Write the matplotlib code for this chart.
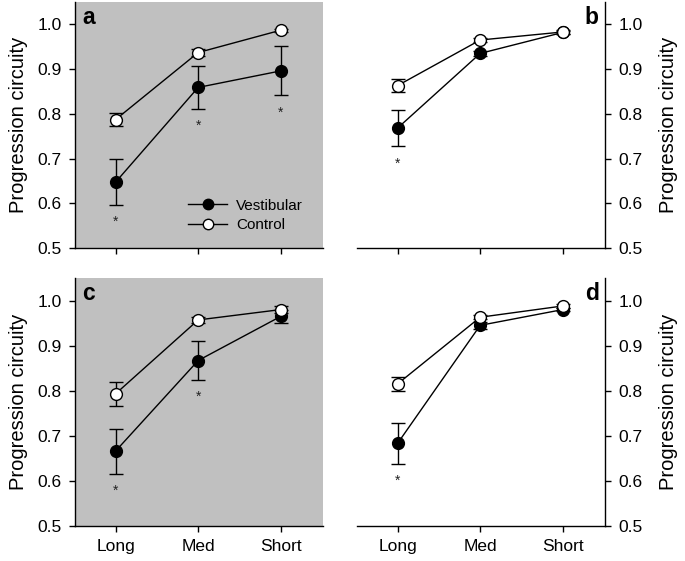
import matplotlib
matplotlib.use("Agg")
import matplotlib.pyplot as plt
from matplotlib.lines import Line2D
import numpy as np

plt.rcParams['font.family'] = ['Liberation Sans', 'DejaVu Sans']

categories = ["Long", "Med", "Short"]
panel_letters = ["a", "b", "c", "d"]

# Panel data: (mean, error) for Vestibular and Control
vest_a = [0.647, 0.859, 0.896]
vest_a_err = [0.051, 0.048, 0.055]
ctrl_a = [0.787, 0.937, 0.987]
ctrl_a_err = [0.014, 0.008, 0.003]
star_a = [0, 1, 2]

vest_b = [0.768, 0.935, 0.982]
vest_b_err = [0.041, 0.006, 0.004]
ctrl_b = [0.863, 0.965, 0.983]
ctrl_b_err = [0.015, 0.004, 0.005]
star_b = [0]

vest_c = [0.666, 0.867, 0.965]
vest_c_err = [0.050, 0.043, 0.015]
ctrl_c = [0.793, 0.957, 0.980]
ctrl_c_err = [0.027, 0.006, 0.007]
star_c = [0, 1]

vest_d = [0.683, 0.945, 0.980]
vest_d_err = [0.045, 0.008, 0.004]
ctrl_d = [0.815, 0.963, 0.988]
ctrl_d_err = [0.015, 0.005, 0.004]
star_d = [0]

panels = [
    (vest_a, vest_a_err, ctrl_a, ctrl_a_err, star_a),
    (vest_b, vest_b_err, ctrl_b, ctrl_b_err, star_b),
    (vest_c, vest_c_err, ctrl_c, ctrl_c_err, star_c),
    (vest_d, vest_d_err, ctrl_d, ctrl_d_err, star_d),
]

fig = plt.figure(figsize=(6.85, 5.61), dpi=100)
W, H = 685, 561
boxes = [
    (75, 2, 248, 246),
    (357, 2, 248, 246),
    (75, 278, 248, 248),
    (357, 278, 248, 248),
]

tick_fs = 12.5
x = np.arange(len(categories))
ms = 8.5

for i, (box, (v, ve, c, ce, stars)) in enumerate(zip(boxes, panels)):
    l, t, w, h = box
    ax = fig.add_axes([l / W, 1 - (t + h) / H, w / W, h / H])
    left = i % 2 == 0
    bottom = i >= 2
    if left:
        ax.set_facecolor('#c0c0c0')
        ax.spines['right'].set_visible(False)
        ax.spines['top'].set_visible(False)
    else:
        ax.spines['left'].set_visible(False)
        ax.spines['top'].set_visible(False)
        ax.yaxis.tick_right()
        ax.yaxis.set_label_position('right')
    ax.errorbar(x, v, yerr=ve, fmt='-o', color='black', mfc='black', mec='black',
                ms=ms, lw=1, capsize=4.7, elinewidth=1, capthick=1, zorder=3,
                label='Vestibular')
    ax.errorbar(x, c, yerr=ce, fmt='-o', color='black', mfc='white', mec='black',
                ms=ms, lw=1, capsize=4.7, elinewidth=1, capthick=1, zorder=4,
                mew=1, label='Control')
    for s in stars:
        ax.text(x[s], v[s] - ve[s] - 0.022, '*', ha='center', va='top',
                fontsize=10, color='#222222')
    ax.set_xlim(-0.49, 2.51)
    ax.set_ylim(0.5, 1.05)
    ax.set_yticks([0.5, 0.6, 0.7, 0.8, 0.9, 1.0])
    ax.set_yticklabels(['0.5', '0.6', '0.7', '0.8', '0.9', '1.0'])
    ax.set_xticks(x)
    if bottom:
        ax.set_xticklabels(categories)
    else:
        ax.set_xticklabels([])
    ax.tick_params(direction='out', length=4.5, width=1, labelsize=tick_fs, pad=5)
    ax.set_ylabel('Progression circuity', fontsize=14.5, labelpad=7 if left else 12)
    if left:
        ax.text(0.03, 0.985, panel_letters[i], transform=ax.transAxes,
                fontsize=16.5, fontweight='bold', ha='left', va='top')
    else:
        ax.text(0.975, 0.985, panel_letters[i], transform=ax.transAxes,
                fontsize=16.5, fontweight='bold', ha='right', va='top')
    for sp in ax.spines.values():
        sp.set_linewidth(1)
    if i == 0:
        handles = [
            Line2D([], [], color='black', marker='o', mfc='black', mec='black', ms=7.5, lw=1),
            Line2D([], [], color='black', marker='o', mfc='white', mec='black', ms=7.5, lw=1),
        ]
        ax.legend(handles, ['Vestibular', 'Control'], loc='lower right',
                  bbox_to_anchor=(0.92, 0.065), frameon=False, fontsize=11,
                  handlelength=2.55, handletextpad=0.6, labelspacing=0.35,
                  borderpad=0, borderaxespad=0)

fig.savefig('out.png', dpi=100)
